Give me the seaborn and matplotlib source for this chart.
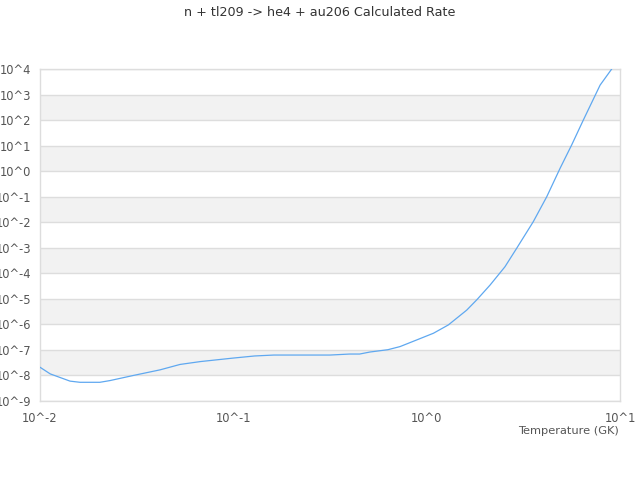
import matplotlib
matplotlib.use("Agg")
import matplotlib.pyplot as plt
import numpy as np
import pandas as pd
import seaborn as sns
from matplotlib.ticker import FixedLocator, FuncFormatter, NullLocator

# Rate curve (temperature in GK, rate)
temperature = [0.0100, 0.0113, 0.0143, 0.0161, 0.0204, 0.0230, 0.0304, 0.0418,
               0.0530, 0.0676, 0.100, 0.129, 0.162, 0.316, 0.400, 0.450, 0.510,
               0.630, 0.728, 0.887, 1.084, 1.294, 1.61, 1.815, 2.13, 2.54, 2.92,
               3.56, 4.18, 4.90, 5.62, 6.46, 7.89, 9.06]
rate = [2.1e-8, 1.15e-8, 6.0e-9, 5.4e-9, 5.4e-9, 6.3e-9, 1.0e-8, 1.66e-8,
        2.7e-8, 3.5e-8, 4.8e-8, 5.8e-8, 6.3e-8, 6.3e-8, 6.9e-8, 6.9e-8, 8.3e-8,
        1.02e-7, 1.35e-7, 2.45e-7, 4.5e-7, 9.5e-7, 3.6e-6, 9.1e-6, 3.5e-5,
        1.8e-4, 9.5e-4, 1.05e-2, 0.10, 1.3, 10.5, 100.0, 2340.0, 1.0e4]

title = "n + tl209 -> he4 + au206 Calculated Rate"
xlabel = "Temperature (GK)"
x_decades = [-2, -1, 0, 1]
y_decades = list(range(-9, 5))

df = pd.DataFrame({"temperature": temperature, "rate": rate})

sns.set_style("white")
plt.rcParams["font.family"] = ["DejaVu Sans"]

fig = plt.figure(figsize=(6.4, 4.8), dpi=100)
ax = fig.add_axes([40 / 640, 1 - 401 / 480, 580 / 640, 332 / 480])

ax.set_xscale("log")
ax.set_yscale("log")

# alternating bands
for k in y_decades[:-1]:
    if k % 2 == 0:
        ax.axhspan(10.0 ** k, 10.0 ** (k + 1), color="#f2f2f2", zorder=0, lw=0)
for k in y_decades:
    ax.axhline(10.0 ** k, color="#dddddd", lw=1, zorder=1)

sns.lineplot(data=df, x="temperature", y="rate", ax=ax, color="#5fa8f0",
             lw=0.9, zorder=3)

ax.set_xlim(10.0 ** x_decades[0], 10.0 ** x_decades[-1])
ax.set_ylim(10.0 ** y_decades[0], 10.0 ** y_decades[-1])

fmt = FuncFormatter(lambda v, pos: f"10^{int(round(np.log10(v)))}")
ax.xaxis.set_major_locator(FixedLocator([10.0 ** k for k in x_decades]))
ax.yaxis.set_major_locator(FixedLocator([10.0 ** k for k in y_decades]))
ax.xaxis.set_minor_locator(NullLocator())
ax.yaxis.set_minor_locator(NullLocator())
ax.xaxis.set_major_formatter(fmt)
ax.yaxis.set_major_formatter(fmt)
ax.tick_params(axis="both", length=0, labelsize=8.3, labelcolor="#555555")
ax.tick_params(axis="x", pad=8)
ax.tick_params(axis="y", pad=6.5)

for s in ax.spines.values():
    s.set_color("#dddddd")
    s.set_linewidth(1)

ax.set_xlabel("")
ax.set_ylabel("")
fig.text(619 / 640, 1 - 431 / 480, xlabel, ha="right", va="center",
         fontsize=8.2, color="#555555")
fig.text(0.5, 1 - 12 / 480, title, ha="center", va="center",
         fontsize=9.2, color="#333333")

fig.savefig("out.png", dpi=100)
